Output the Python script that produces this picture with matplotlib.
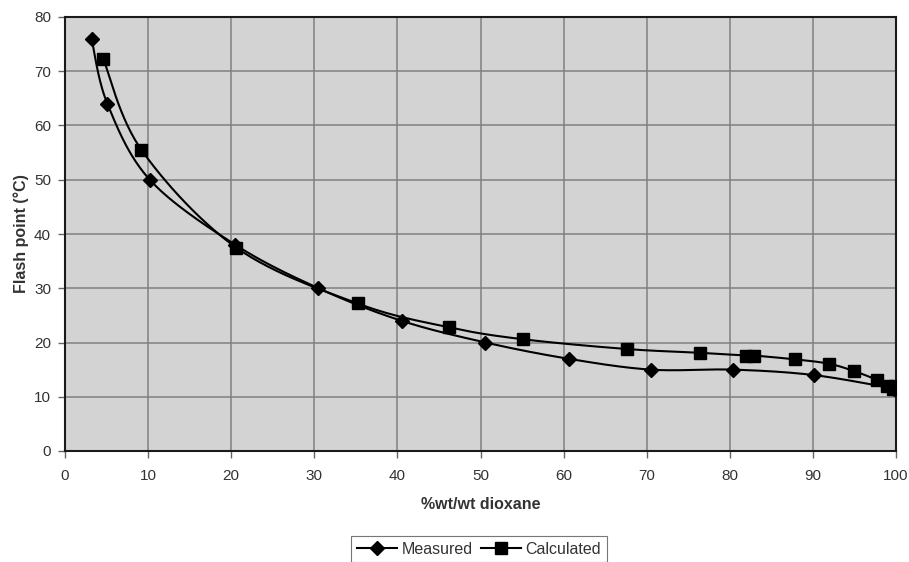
import numpy as np
import matplotlib
matplotlib.use("Agg")
import matplotlib.pyplot as plt
from matplotlib.lines import Line2D

plt.rcParams['font.family'] = ['Liberation Sans', 'DejaVu Sans']

meas_x = [3.2, 5.1, 10.2, 20.5, 30.5, 40.5, 50.6, 60.6, 70.5, 80.4, 90.1, 99.8]
meas_y = [76, 64, 50, 38, 30, 24, 20, 17, 15, 15, 14, 11.5]

calc_x = [4.6, 9.2, 20.6, 35.2, 46.2, 55.1, 67.6, 76.4, 82.0, 82.9, 87.8, 91.9, 95.0, 97.7, 98.9, 99.6, 99.9]
calc_y = [72.3, 55.5, 37.5, 27.2, 22.8, 20.6, 18.8, 18.1, 17.6, 17.6, 16.9, 16.1, 14.7, 13.1, 12.0, 11.4, 11.9]

x_ticks = [0, 10, 20, 30, 40, 50, 60, 70, 80, 90, 100]
y_ticks = [0, 10, 20, 30, 40, 50, 60, 70, 80]


def smooth(xs, ys, n=30):
    # Catmull-Rom style smoothing (Excel smoothed line look)
    p = np.column_stack([xs, ys]).astype(float)
    pts = np.vstack([p[0], p, p[-1]])
    out = []
    for i in range(1, len(pts) - 2):
        p0, p1, p2, p3 = pts[i - 1], pts[i], pts[i + 1], pts[i + 2]
        c1 = p1 + (p2 - p0) / 6.0
        c2 = p2 - (p3 - p1) / 6.0
        t = np.linspace(0, 1, n)[:, None]
        seg = ((1 - t) ** 3) * p1 + 3 * ((1 - t) ** 2) * t * c1 + 3 * (1 - t) * t ** 2 * c2 + t ** 3 * p2
        out.append(seg)
    s = np.vstack(out)
    return s[:, 0], s[:, 1]


fig = plt.figure(figsize=(9.09, 5.62), dpi=100)
ax = fig.add_axes([65 / 909, 1 - 451 / 562, (896 - 65) / 909, (451 - 17) / 562])
ax.set_facecolor('#d3d3d3')

sx, sy = smooth(meas_x, meas_y)
ax.plot(sx, sy, color='black', lw=1.5, zorder=3)
ax.plot(meas_x, meas_y, linestyle='none', marker='D', ms=7, color='black', zorder=4)

cx, cy = smooth(calc_x, calc_y)
ax.plot(cx, cy, color='black', lw=1.5, zorder=3)
ax.plot(calc_x, calc_y, linestyle='none', marker='s', ms=9, color='black', zorder=4)

ax.set_xlim(0, 100)
ax.set_ylim(0, 80)
ax.set_xticks(x_ticks)
ax.set_yticks(y_ticks)
ax.grid(True, color='#808080', lw=1.1)
ax.set_axisbelow(True)
for s in ax.spines.values():
    s.set_color('#1a1a1a')
    s.set_linewidth(1.5)
ax.tick_params(axis='both', labelsize=11, labelcolor='#333333', color='#666666',
               length=5, width=1, direction='out')
ax.tick_params(axis='x', pad=8)
ax.tick_params(axis='y', pad=5)

ax.set_xlabel('%wt/wt dioxane', fontsize=11.5, fontweight='bold', color='#333333', labelpad=10)
ax.set_ylabel('Flash point (°C)', fontsize=11.5, fontweight='bold', color='#333333', labelpad=4)

handles = [Line2D([0], [0], color='black', lw=1.5, marker='D', ms=7),
           Line2D([0], [0], color='black', lw=1.5, marker='s', ms=8)]
leg = fig.legend(handles, ['Measured', 'Calculated'], loc='upper center',
                 bbox_to_anchor=(479 / 909, 1 - 536 / 562), ncol=2, frameon=True,
                 fancybox=False, fontsize=11.5, handlelength=2.5, columnspacing=0.5,
                 handletextpad=0.3, borderpad=0.35, borderaxespad=0, edgecolor='#555555')
leg.get_frame().set_linewidth(0.8)
for t in leg.get_texts():
    t.set_color('#333333')

fig.savefig('out.png', dpi=100)
